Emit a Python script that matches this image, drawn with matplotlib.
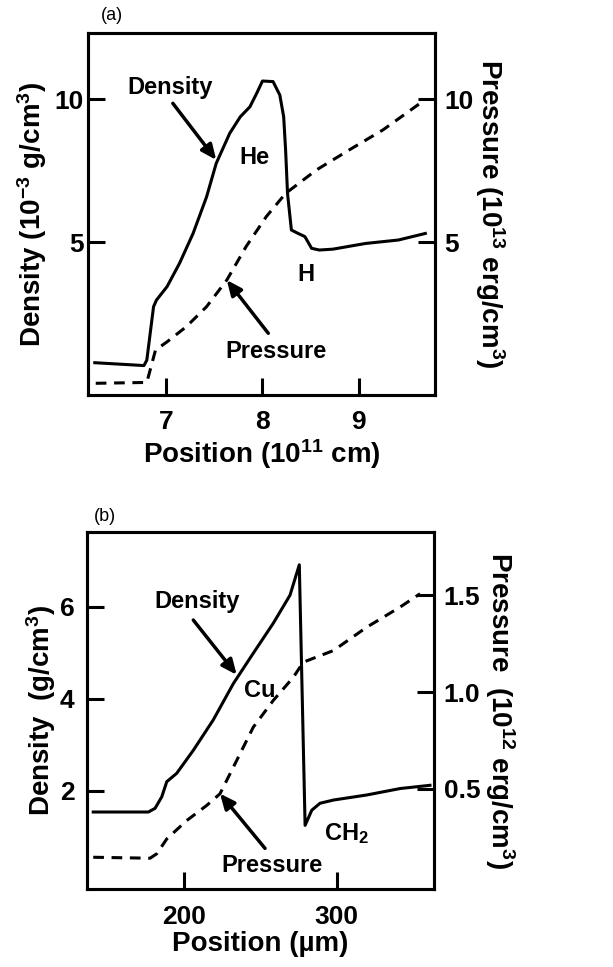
import matplotlib
matplotlib.use("Agg")
import matplotlib.pyplot as plt

# panel (a): He/H interface
pos_a_dens = [6.26, 6.77, 6.80, 6.87, 6.90, 7.01, 7.14, 7.28, 7.42, 7.52, 7.66, 7.77,
              7.87, 7.94, 8.00, 8.11, 8.18, 8.22, 8.24, 8.26, 8.30, 8.37, 8.44, 8.51,
              8.59, 8.73, 9.07, 9.41, 9.69]
dens_a = [0.79, 0.69, 0.88, 2.75, 2.98, 3.45, 4.27, 5.31, 6.59, 7.76, 8.81, 9.39,
          9.74, 10.21, 10.64, 10.62, 10.15, 9.39, 8.23, 6.71, 5.43, 5.31, 5.20, 4.79,
          4.73, 4.76, 4.96, 5.08, 5.31]
pos_a_pres = [6.27, 6.80, 6.89, 7.01, 7.21, 7.42, 7.63, 7.83, 8.04, 8.24, 8.56, 8.90,
              9.25, 9.66]
pres_a = [0.07, 0.10, 1.23, 1.52, 2.05, 2.75, 3.68, 4.85, 5.90, 6.71, 7.53, 8.23,
          8.93, 9.92]

# panel (b): Cu/CH2 interface
pos_b_dens = [140.2, 176.4, 180.8, 185.2, 188.5, 195.0, 205.9, 219.0, 232.2, 245.3,
              258.4, 269.4, 275.5, 279.3, 283.7, 289.1, 297.9, 319.8, 341.7, 361.3]
dens_b = [1.54, 1.54, 1.62, 1.87, 2.20, 2.38, 2.88, 3.54, 4.33, 4.99,
          5.64, 6.25, 6.91, 1.25, 1.58, 1.73, 1.80, 1.91, 2.05, 2.12]
pos_b_pres = [140.2, 177.5, 181.9, 188.5, 201.6, 214.7, 223.4, 232.2, 245.3, 258.4,
              271.6, 278.1, 297.9, 319.8, 341.7, 354.8]
pres_b = [0.146, 0.141, 0.164, 0.241, 0.336, 0.414, 0.474, 0.612, 0.819, 0.957,
          1.077, 1.155, 1.215, 1.336, 1.44, 1.509]

plt.rcParams["font.family"] = ["Liberation Sans", "DejaVu Sans"]
plt.rcParams["font.weight"] = "bold"
plt.rcParams["axes.labelweight"] = "bold"
plt.rcParams["mathtext.fontset"] = "custom"
plt.rcParams["mathtext.rm"] = "Liberation Sans:bold"
plt.rcParams["mathtext.it"] = "Liberation Sans:bold"
plt.rcParams["mathtext.bf"] = "Liberation Sans:bold"
plt.rcParams["mathtext.default"] = "rm"

fig = plt.figure(figsize=(6.13, 9.67), dpi=100)


def style(ax, side, ypad):
    for s in ax.spines.values():
        s.set_linewidth(2.2)
    ax.tick_params(axis="both", direction="in", length=12, width=2.2, labelsize=19)
    ax.tick_params(axis="x", pad=11)
    ax.tick_params(axis="y", pad=ypad)
    if side == "left":
        ax.tick_params(axis="y", left=True, right=False)
    else:
        ax.tick_params(axis="y", left=False, right=True)


arrow = dict(arrowstyle="-|>,head_length=0.9,head_width=0.4", lw=2.5, color="black",
             shrinkA=0, shrinkB=0)
tsize = 17
lsize = 20

# ---------- (a) ----------
ax1 = fig.add_axes([0.1436, 0.5915, 0.566, 0.3744])
ax1.plot(pos_a_dens, dens_a, color="black", lw=2.2)
ax1.set_xlim(6.19, 9.79)
ax1.set_ylim(-0.34, 12.32)
ax1.set_xticks([7, 8, 9])
ax1.set_yticks([5, 10])
style(ax1, "left", 3)
ax1.set_xlabel("Position (10$^{11}$ cm)", fontsize=lsize, labelpad=2)
ax1.set_ylabel("Density (10$^{-3}$ g/cm$^3$)", fontsize=lsize, labelpad=4)

ax1r = ax1.twinx()
ax1r.plot(pos_a_pres, pres_a, color="black", lw=2.2, ls=(0, (3.5, 2.5)))
ax1r.set_ylim(-0.34, 12.32)
ax1r.set_yticks([5, 10])
style(ax1r, "right", 7)
ax1r.set_ylabel("Pressure (10$^{13}$ erg/cm$^3$)", fontsize=lsize, rotation=270,
                labelpad=24)

ax1.text(7.04, 10.40, "Density", fontsize=tsize, ha="center", va="center")
ax1.annotate("", xy=(7.52, 7.88), xytext=(7.07, 9.86), arrowprops=arrow)
ax1.text(7.92, 7.95, "He", fontsize=tsize, ha="center", va="center")
ax1.text(8.45, 3.86, "H", fontsize=tsize, ha="center", va="center")
ax1.text(8.14, 1.17, "Pressure", fontsize=tsize, ha="center", va="center")
ax1.annotate("", xy=(7.63, 3.68), xytext=(8.06, 1.82), arrowprops=arrow)
ax1.text(6.44, 12.94, "(a)", fontsize=13, ha="center", va="center",
         fontweight="normal", clip_on=False)

# ---------- (b) ----------
ax2 = fig.add_axes([0.1419, 0.0803, 0.566, 0.3699])
ax2.plot(pos_b_dens, dens_b, color="black", lw=2.2)
ax2.set_xlim(136.1, 363.9)
ax2.set_ylim(-0.14, 7.63)
ax2.set_xticks([200, 300])
ax2.set_yticks([2, 4, 6])
style(ax2, "left", 9)
ax2.set_xlabel("Position (µm)", fontsize=lsize, labelpad=2)
ax2.set_ylabel("Density  (g/cm$^3$)", fontsize=lsize, labelpad=1)

ax2r = ax2.twinx()
ax2r.plot(pos_b_pres, pres_b, color="black", lw=2.2, ls=(0, (3.5, 2.5)))
ax2r.set_ylim(-0.02, 1.83)
ax2r.set_yticks([0.5, 1.0, 1.5])
ax2r.set_yticklabels(["0.5", "1.0", "1.5"])
style(ax2r, "right", 7)
ax2r.set_ylabel("Pressure  (10$^{12}$ erg/cm$^3$)", fontsize=lsize, rotation=270,
                labelpad=26)

ax2.text(208.1, 6.11, "Density", fontsize=tsize, ha="center", va="center")
ax2.annotate("", xy=(234.4, 4.52), xytext=(205.9, 5.71), arrowprops=arrow)
ax2.text(249.7, 4.19, "Cu", fontsize=tsize, ha="center", va="center")
ax2.text(306.7, 1.07, "CH$_2$", fontsize=tsize, ha="center", va="center")
ax2.text(257.4, 0.38, "Pressure", fontsize=tsize, ha="center", va="center")
ax2.annotate("", xy=(223.4, 1.94), xytext=(253.0, 0.75), arrowprops=arrow)
ax2.text(148.0, 7.96, "(b)", fontsize=13, ha="center", va="center",
         fontweight="normal", clip_on=False)

fig.savefig("out.png", dpi=100)
